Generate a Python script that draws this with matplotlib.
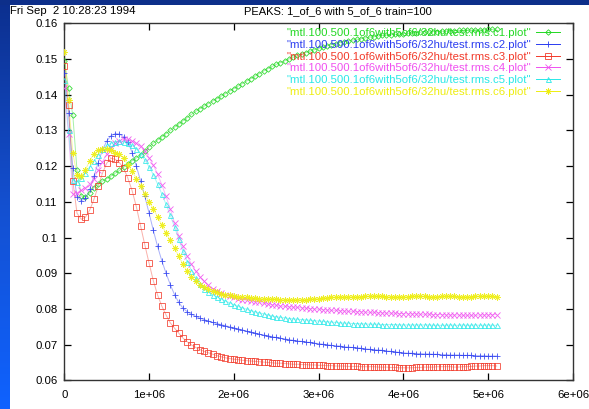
import numpy as np
import matplotlib
matplotlib.use("Agg")
import matplotlib.pyplot as plt
from matplotlib.lines import Line2D
from matplotlib.colors import LinearSegmentedColormap

plt.rcParams['font.family'] = ['Liberation Sans', 'DejaVu Sans']

# training steps (sample grid)
steps = np.arange(0, 5_100_001, 50_000)

c1 = [.1495, .1418, .1343, .1188, .1116, .1113, .1125, .1140, .1150, .1158,
      .1165, .1172, .1180, .1188, .1197, .1206, .1215, .1223, .1232, .1243,
      .1254, .1264, .1273, .1282, .1291, .1300, .1309, .1318, .1327, .1336,
      .1345, .1353, .1361, .1368, .1375, .1382, .1389, .1396, .1403, .1410,
      .1417, .1424, .1431, .1438, .1445, .1452, .1459, .1466, .1473, .1479,
      .1485, .1490, .1495, .1500, .1505, .1510, .1514, .1518, .1522, .1526,
      .1530, .1533, .1537, .1540, .1543, .1546, .1549, .1551, .1553, .1555,
      .1557, .1559, .1561, .1563, .1564, .1566, .1567, .1568, .1569, .1570,
      .1571, .1572, .1573, .1574, .1575, .1576, .1576, .1577, .1577, .1578,
      .1578, .1579, .1579, .1580, .1580, .1581, .1581, .1582, .1582, .1582,
      .1583, .1583, .1584]

c2 = [.1460, .1350, .1194, .1114, .1103, .1110, .1135, .1172, .1210, .1245,
      .1270, .1285, .1291, .1290, .1282, .1268, .1238, .1200, .1158, .1115,
      .1068, .1020, .0975, .0935, .0900, .0868, .0840, .0818, .0802, .0792,
      .0785, .0779, .0774, .0770, .0766, .0762, .0759, .0756, .0753, .0750,
      .0747, .0744, .0741, .0738, .0735, .0732, .0729, .0727, .0725, .0722,
      .0720, .0718, .0716, .0714, .0712, .0710, .0709, .0707, .0706, .0704,
      .0703, .0701, .0700, .0698, .0697, .0696, .0694, .0693, .0692, .0691,
      .0690, .0688, .0687, .0686, .0685, .0684, .0682, .0681, .0680, .0678,
      .0677, .0676, .0676, .0675, .0675, .0674, .0674, .0673, .0673, .0672,
      .0672, .0671, .0671, .0671, .0670, .0670, .0670, .0669, .0669, .0669,
      .0668, .0668, .0668]

c3 = [.1480, .1371, .1159, .1068, .1051, .1057, .1077, .1107, .1144, .1180,
      .1208, .1222, .1219, .1210, .1194, .1166, .1131, .1086, .1032, .0979,
      .0928, .0879, .0839, .0808, .0783, .0761, .0746, .0732, .0718, .0708,
      .0699, .0692, .0686, .0681, .0677, .0673, .0669, .0666, .0663, .0661,
      .0659, .0658, .0656, .0655, .0654, .0653, .0652, .0651, .0650, .0649,
      .0648, .0648, .0647, .0646, .0645, .0645, .0644, .0644, .0643, .0643,
      .0642, .0642, .0641, .0641, .0640, .0640, .0640, .0639, .0639, .0639,
      .0638, .0638, .0638, .0638, .0637, .0637, .0637, .0636, .0636, .0635,
      .0635, .0635, .0635, .0636, .0636, .0637, .0637, .0637, .0638, .0638,
      .0638, .0638, .0637, .0637, .0638, .0638, .0639, .0640, .0640, .0641,
      .0641, .0641, .0640]

c4 = [.1418, .1290, .1122, .1125, .1132, .1140, .1150, .1165, .1188, .1212,
      .1234, .1252, .1264, .1271, .1275, .1275, .1270, .1264, .1255, .1241,
      .1224, .1203, .1178, .1148, .1115, .1080, .1040, .1005, .0975, .0948,
      .0925, .0905, .0890, .0877, .0866, .0857, .0850, .0844, .0839, .0835,
      .0832, .0829, .0826, .0824, .0822, .0820, .0818, .0816, .0814, .0812,
      .0810, .0808, .0807, .0806, .0805, .0804, .0803, .0802, .0801, .0800,
      .0799, .0798, .0797, .0796, .0796, .0795, .0794, .0793, .0793, .0792,
      .0792, .0791, .0790, .0790, .0789, .0789, .0788, .0788, .0788, .0787,
      .0787, .0786, .0786, .0786, .0785, .0785, .0785, .0784, .0784, .0784,
      .0783, .0783, .0783, .0783, .0782, .0782, .0782, .0782, .0783, .0783,
      .0783, .0784, .0784]

c5 = [.1441, .1300, .1161, .1155, .1168, .1182, .1198, .1214, .1232, .1248,
      .1258, .1264, .1268, .1269, .1268, .1264, .1258, .1248, .1234, .1217,
      .1198, .1176, .1150, .1122, .1093, .1062, .1030, .0995, .0962, .0932,
      .0907, .0886, .0870, .0857, .0847, .0840, .0834, .0828, .0822, .0817,
      .0812, .0807, .0803, .0799, .0795, .0792, .0789, .0786, .0783, .0780,
      .0778, .0776, .0775, .0773, .0772, .0771, .0770, .0769, .0768, .0767,
      .0766, .0765, .0764, .0763, .0762, .0761, .0760, .0760, .0759, .0759,
      .0758, .0758, .0757, .0757, .0757, .0756, .0756, .0756, .0756, .0755,
      .0755, .0755, .0755, .0755, .0755, .0755, .0755, .0754, .0754, .0754,
      .0754, .0755, .0754, .0754, .0755, .0754, .0754, .0755, .0754, .0754,
      .0755, .0754, .0754]

c6 = [.1519, .1385, .1237, .1175, .1172, .1190, .1215, .1235, .1244, .1248,
      .1247, .1244, .1238, .1233, .1222, .1204, .1186, .1165, .1143, .1122,
      .1100, .1080, .1058, .1035, .1012, .0992, .0970, .0948, .0925, .0905,
      .0890, .0877, .0868, .0861, .0855, .0850, .0846, .0843, .0840, .0838,
      .0836, .0834, .0833, .0832, .0831, .0830, .0829, .0829, .0828, .0827,
      .0827, .0826, .0826, .0826, .0826, .0826, .0826, .0826, .0827, .0828,
      .0829, .0830, .0831, .0832, .0832, .0833, .0833, .0834, .0834, .0834,
      .0834, .0835, .0835, .0835, .0835, .0835, .0834, .0834, .0834, .0834,
      .0834, .0834, .0835, .0835, .0835, .0835, .0834, .0834, .0834, .0835,
      .0835, .0835, .0835, .0834, .0834, .0834, .0834, .0835, .0835, .0835,
      .0835, .0835, .0834]

series = [c1, c2, c3, c4, c5, c6]
labels = ['"mtl.100.500.1of6with5of6/32hu/test.rms.c%d.plot"' % i for i in range(1, 7)]
colors = ['#22d822', '#2a3cf0', '#f23a2a', '#f050f0', '#28e8e8', '#eeee10']
markers = ['D', '+', 's', 'x', '^', (8, 2, 0)]
fill_open = [True, False, True, False, True, False]
msizes = [2.8, 4.4, 3.8, 3.8, 3.6, 4.4]

xticks = [0, 1e6, 2e6, 3e6, 4e6, 5e6, 6e6]
xticklabels = ['0', '1e+06', '2e+06', '3e+06', '4e+06', '5e+06', '6e+06']
yticks = [0.06, 0.07, 0.08, 0.09, 0.10, 0.11, 0.12, 0.13, 0.14, 0.15, 0.16]
yticklabels = ['0.06', '0.07', '0.08', '0.09', '0.1', '0.11', '0.12', '0.13', '0.14', '0.15', '0.16']

W, H = 589, 409
fig = plt.figure(figsize=(W / 100, H / 100), dpi=100, facecolor='white')

# blue slide frame: gradient strip on the left, dark band on top
bg = fig.add_axes([0, 0, 10 / W, 1])
grad = np.linspace(0, 1, 256).reshape(-1, 1)
cmap = LinearSegmentedColormap.from_list('bl', ['#0c2f8e', '#1450d0', '#0f62ff'])
bg.imshow(grad, aspect='auto', cmap=cmap, origin='upper', extent=[0, 1, 0, 1])
bg.set_axis_off()
top = fig.add_axes([0, 1 - 5 / H, 1, 5 / H])
top.set_facecolor('#0d2f8a')
top.set_xticks([]); top.set_yticks([])
for s in top.spines.values():
    s.set_visible(False)

ax = fig.add_axes([64.3 / W, (H - 380.3) / H, (573 - 64.3) / W, (380.3 - 23.3) / H])

for ys, lab, col, mk, op, ms in zip(series, labels, colors, markers, fill_open, msizes):
    ax.plot(steps, ys, '-', color=col, lw=0.7, alpha=0.4, zorder=2)
    ax.plot(steps, ys, linestyle='none', marker=mk, color=col, ms=ms,
            mfc='none' if op else col, mew=0.6, alpha=0.9, zorder=3)

handles = [Line2D([0], [0], color=col, lw=0.7, marker=mk, ms=ms,
                  mfc='none' if op else col, mew=0.6)
           for col, mk, op, ms in zip(colors, markers, fill_open, msizes)]
leg = ax.legend(handles, labels, loc='upper right', bbox_to_anchor=(0.9745, 0.987),
                frameon=False, markerfirst=False, fontsize=8.2, handlelength=2.1,
                handletextpad=0.45, labelspacing=0.16, borderaxespad=0, borderpad=0)
for t, col in zip(leg.get_texts(), colors):
    t.set_color(col)

ax.set_xlim(0, 6e6)
ax.set_ylim(0.06, 0.16)
ax.set_xticks(xticks)
ax.set_xticklabels(xticklabels)
ax.set_yticks(yticks)
ax.set_yticklabels(yticklabels)
ax.tick_params(direction='in', length=5, width=0.9, top=True, right=True,
               labelsize=8.2, colors='black')
ax.tick_params(axis='x', pad=7)
ax.tick_params(axis='y', pad=5)
for s in ax.spines.values():
    s.set_linewidth(1.0)
    s.set_color('#333333')

fig.text(10 / W, 1 - 11 / H, 'Fri Sep  2 10:28:23 1994', fontsize=8.2, ha='left', va='center')
fig.text(338 / W, 1 - 11 / H, 'PEAKS: 1_of_6 with 5_of_6 train=100', fontsize=8.0,
         ha='center', va='center')

fig.savefig('out.png', dpi=100, facecolor='white')
